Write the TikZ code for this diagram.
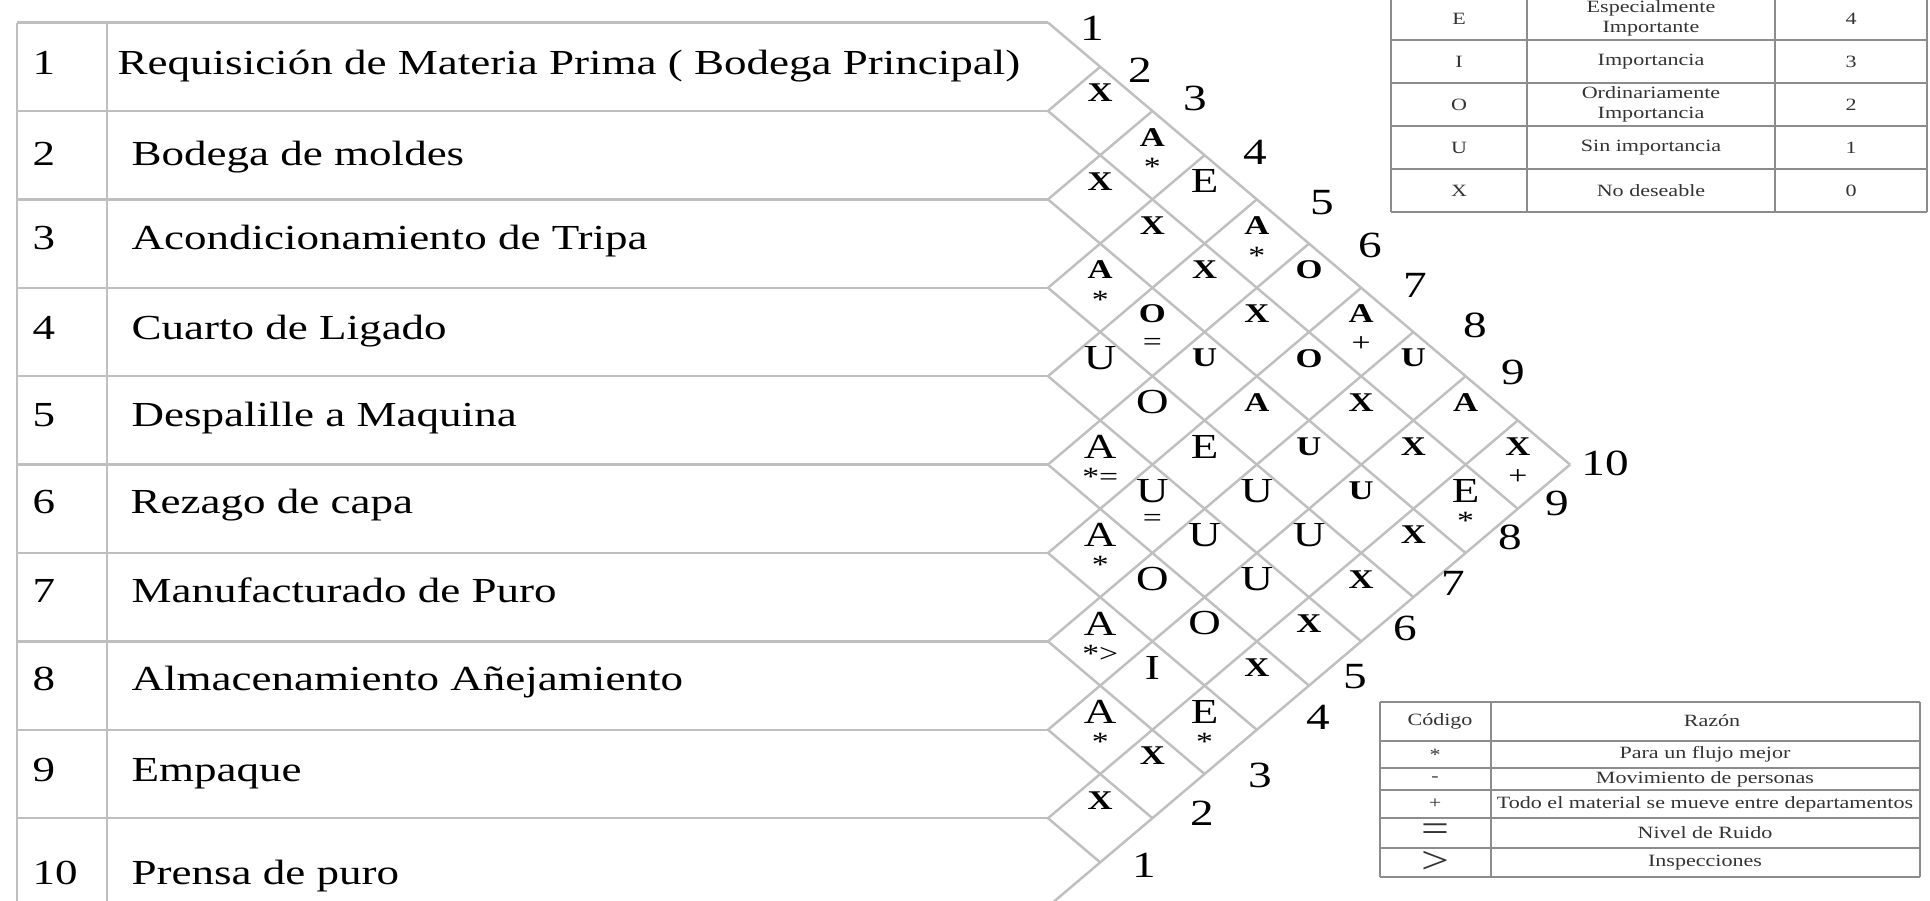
\documentclass[tikz,border=0pt]{standalone}
\usepackage{fontspec}
\setmainfont{Liberation Serif}[FakeStretch=1.28]
\usetikzlibrary{calc}

% geometry of the chart, in px
\newcommand{\chx}{1048}
\newcommand{\chw}{104.4}
\newcommand{\chh}{88.4}
\newcommand{\chy}{22.6}

\begin{document}
\begin{tikzpicture}[x=0.01cm,y=-0.01cm,
  every node/.style={inner sep=0pt},
  grid/.style={draw=black!25,line width=0.7pt},
  tab/.style={draw=black!45,line width=0.5pt},
  rowtxt/.style={anchor=base west,font=\fontsize{10}{12}\selectfont},
  edgenum/.style={font=\fontsize{10.5}{12}\selectfont},
  bx/.style={font=\fontsize{7.7}{9}\selectfont\bfseries},
  rg/.style={font=\fontsize{10}{11}\selectfont},
  sub/.style={font=\fontsize{7.5}{9}\selectfont},
  leg/.style={font=\fontsize{4.9}{5.6}\selectfont,text=black!80,align=center}]

  \useasboundingbox (0,0) rectangle (1930,901);
  \clip (0,0) rectangle (1930,901);

  % departments
  \foreach \k in {0,...,10}
    \draw[grid] (17,\chy+\k*\chh) -- (\chx,\chy+\k*\chh);
  \draw[grid] (17,\chy) -- (17,\chy+10*\chh);
  \draw[grid] (107,\chy) -- (107,\chy+10*\chh);

  \foreach \lx/\t/\o [count=\i] in {117/{Requisición de Materia Prima ( Bodega Principal)}/8,
      131/{Bodega de moldes}/10, 131/{Acondicionamiento de Tripa}/6,
      131/{Cuarto de Ligado}/8, 131/{Despalille a Maquina}/6,
      130/{Rezago de capa}/5, 131/{Manufacturado de Puro}/5,
      131/{Almacenamiento Añejamiento}/5, 131/{Empaque}/8, 131/{Prensa de puro}/22}{
    \node[rowtxt] (n\i) at (32,\chy+\i*\chh-0.5*\chh+\o) {\i};
    \node[rowtxt] (r\i) at (\lx,\chy+\i*\chh-0.5*\chh+\o) {\t};
  }

  % diamond grid
  \foreach \k in {0,...,9}
    \draw[grid] (\chx,\chy+\k*\chh) -- ({\chx+(10-\k)*\chw/2},{\chy+(10+\k)*\chh/2});
  \foreach \k in {1,...,10}
    \draw[grid] (\chx,\chy+\k*\chh) -- ({\chx+\k*\chw/2},{\chy+\k*\chh/2});

  \foreach \k/\px/\py in {1/1092/28, 2/1140/70, 3/1195/98, 4/1255/152, 5/1322/203,
      6/1370/245, 7/1415/285, 8/1475/325, 9/1513/372, 10/1605/463}
    \node[edgenum] (t\k) at (\px,\py) {\k};
  \foreach \k/\px/\py in {1/1144/865, 2/1202/813, 3/1260/775, 4/1318/717, 5/1355/677,
      6/1405/628, 7/1453/583, 8/1510/537, 9/1557/503}
    \node[edgenum] (b\k) at (\px,\py) {\k};

  % closeness ratings
  \foreach \i/\j/\s/\l in {1/2/bx/X, 2/3/bx/X, 3/4/bx/A, 4/5/rg/U, 5/6/rg/A, 6/7/rg/A,
      7/8/rg/A, 8/9/rg/A, 9/10/bx/X,
      1/3/bx/A, 2/4/bx/X, 3/5/bx/O, 4/6/rg/O, 5/7/rg/U, 6/8/rg/O, 7/9/rg/I, 8/10/bx/X,
      1/4/rg/E, 2/5/bx/X, 3/6/bx/U, 4/7/rg/E, 5/8/rg/U, 6/9/rg/O, 7/10/rg/E,
      1/5/bx/A, 2/6/bx/X, 3/7/bx/A, 4/8/rg/U, 5/9/rg/U, 6/10/bx/X,
      1/6/bx/O, 2/7/bx/O, 3/8/bx/U, 4/9/rg/U, 5/10/bx/X,
      1/7/bx/A, 2/8/bx/X, 3/9/bx/U, 4/10/bx/X,
      1/8/bx/U, 2/9/bx/X, 3/10/bx/X,
      1/9/bx/A, 2/10/rg/E,
      1/10/bx/X}
    \node[\s] (c\i-\j) at ({\chx+(\j-\i)*\chw/2},{\chy+(\i+\j-1)*\chh/2-18}) {\l};

  \foreach \i/\j/\l in {1/3/*, 3/4/*, 5/6/*=, 6/7/*, 7/8/*>, 8/9/*, 1/5/*, 1/7/+,
      1/10/+, 2/10/*, 7/10/*, 3/5/=, 5/7/=}
    \node[sub] (s\i-\j) at ({\chx+(\j-\i)*\chw/2},{\chy+(\i+\j-1)*\chh/2+12}) {\l};

  % legend: ratings
  \foreach \yy in {-3,40,83,126,169,212}
    \draw[tab] (1391,\yy) -- (1927,\yy);
  \foreach \xx in {1391,1527,1775,1927}
    \draw[tab] (\xx,-3) -- (\xx,212);
  \foreach \a/\b/\c [count=\r] in {E/{Especialmente\\Importante}/4, I/Importancia/3,
      O/{Ordinariamente\\Importancia}/2, U/{Sin importancia}/1, X/{No deseable}/0}{
    \node[leg] (ka\r) at (1459,-3+\r*43-21.5) {\a};
    \node[leg] (kb\r) at (1651,-3+\r*43-21.5) {\b};
    \node[leg] (kc\r) at (1851,-3+\r*43-21.5) {\c};
  }

  % legend: reasons
  \foreach \yy in {702,741,768,790,818,848,877}
    \draw[tab] (1380,\yy) -- (1920,\yy);
  \foreach \xx in {1380,1491,1920}
    \draw[tab] (\xx,702) -- (\xx,877);
  \node[leg] (hcod) at (1440,721) {Código};
  \node[leg] (hraz) at (1712,721) {Razón};
  \foreach \yy/\c/\t [count=\r] in {754.5/{*}/{Para un flujo mejor},
      779/{-}/{Movimiento de personas},
      804/{+}/{Todo el material se mueve entre departamentos},
      833/{\fontsize{11}{11}\selectfont=}/{Nivel de Ruido},
      862.5/{\fontsize{11}{11}\selectfont>}/{Inspecciones}}{
    \node[leg] (rc\r) at (1435,\yy) {\c};
    \node[leg] (rt\r) at (1705,\yy) {\t};
  }
\end{tikzpicture}
\end{document}
